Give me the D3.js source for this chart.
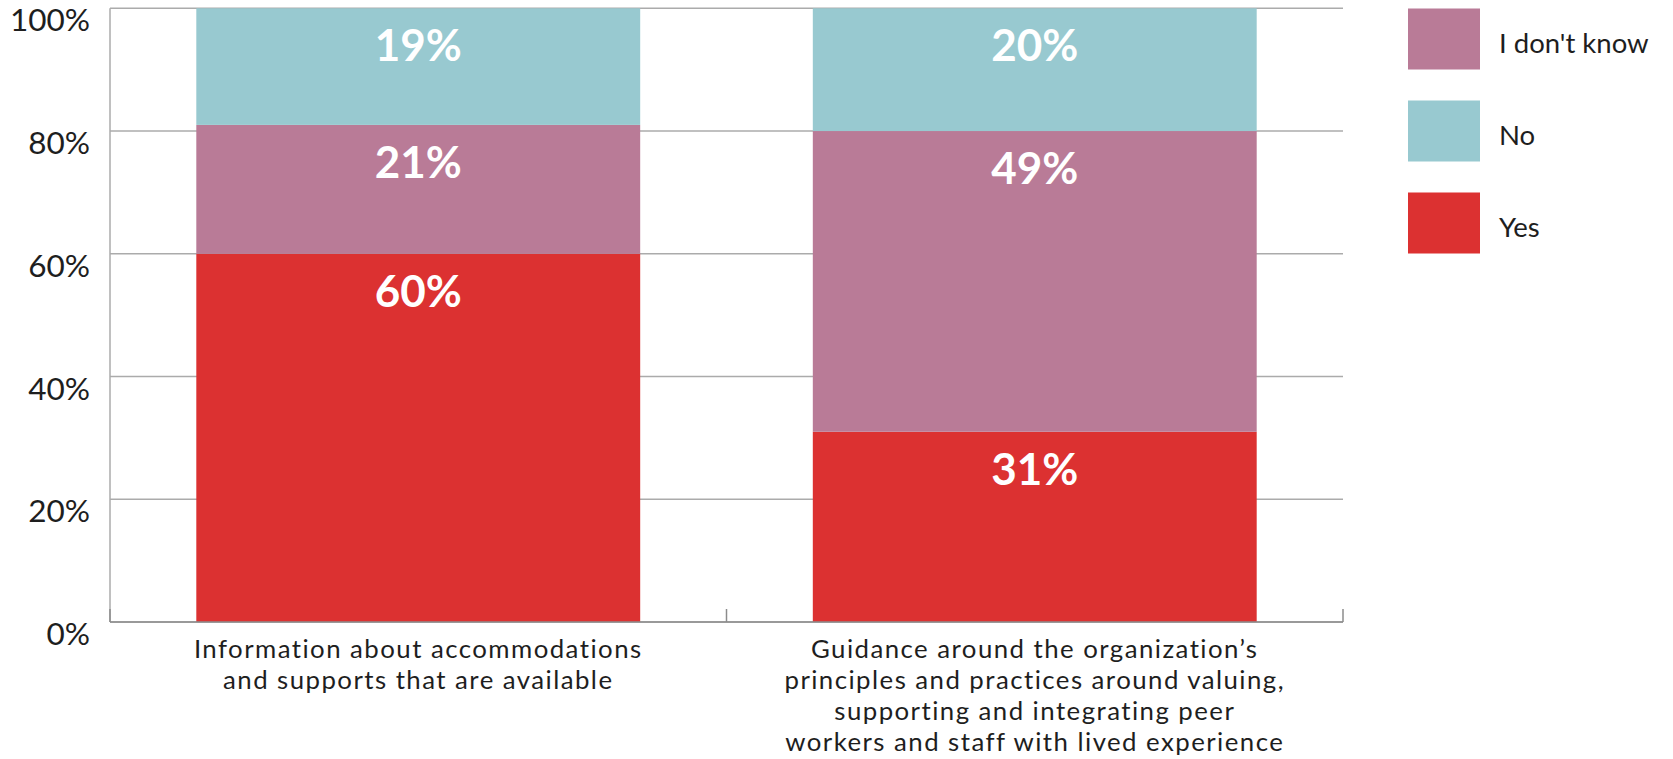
<!DOCTYPE html>
<html>
<head>
<meta charset="utf-8">
<script src="https://cdn.jsdelivr.net/npm/d3@7"></script>
<style>
  html, body { margin: 0; padding: 0; background: #ffffff; }
  svg { display: block; font-family: Lato, "Open Sans", sans-serif; }
</style>
</head>
<body>
<svg id="chart" width="1673" height="759"></svg>
<script>
// Survey answers per resource (percent of respondents)
const categories = [
  "Information about accommodations and supports that are available",
  "Guidance around the organization’s principles and practices around valuing, supporting and integrating peer workers and staff with lived experience"
];
const categoryLines = [
  ["Information about accommodations", "and supports that are available"],
  ["Guidance around the organization’s", "principles and practices around valuing,", "supporting and integrating peer", "workers and staff with lived experience"]
];
const seriesNames = ["Yes", "I don't know", "No"];   // stacked bottom → top
const yesValues = [60, 31];
const dontKnowValues = [21, 49];
const noValues = [19, 20];
const legendOrder = ["I don't know", "No", "Yes"];
const yTicks = [0, 20, 40, 60, 80, 100];

const colors = { "Yes": "#dc3131", "I don't know": "#b97b97", "No": "#98c9d0" };

const rows = categories.map((c, i) => ({
  category: c,
  "Yes": yesValues[i],
  "I don't know": dontKnowValues[i],
  "No": noValues[i]
}));

const margin = { left: 110, top: 8.3, right: 330, bottom: 137 };
const width = 1673, height = 759;
const svg = d3.select("#chart");

const x = d3.scaleBand()
  .domain(categories)
  .range([margin.left, width - margin.right])
  .paddingInner(0.28)
  .paddingOuter(0.14);

const y = d3.scaleLinear()
  .domain([0, 100])
  .range([height - margin.bottom, margin.top]);

const gridColor = "#ababab";

// horizontal gridlines
svg.append("g")
  .selectAll("line")
  .data(yTicks)
  .join("line")
  .attr("x1", margin.left)
  .attr("x2", width - margin.right)
  .attr("y1", d => y(d))
  .attr("y2", d => y(d))
  .attr("stroke", gridColor)
  .attr("stroke-width", 1.5);

// left axis line
svg.append("line")
  .attr("x1", margin.left).attr("x2", margin.left)
  .attr("y1", y(100)).attr("y2", y(0))
  .attr("stroke", gridColor).attr("stroke-width", 1.5);

// y tick labels
svg.append("g")
  .selectAll("text")
  .data(yTicks)
  .join("text")
  .attr("x", 90)
  .attr("y", d => y(d) + 23)
  .attr("text-anchor", "end")
  .attr("font-size", 31.5)
  .attr("fill", "#1e1e1e")
  .text(d => d + "%");

// stacked bars
const stack = d3.stack().keys(seriesNames);
const stacked = stack(rows);

const layers = svg.append("g")
  .selectAll("g")
  .data(stacked)
  .join("g")
  .attr("fill", d => colors[d.key]);

layers.selectAll("rect")
  .data(d => d.map(s => ({ key: d.key, s })))
  .join("rect")
  .attr("x", d => x(d.s.data.category))
  .attr("width", x.bandwidth())
  .attr("y", d => y(d.s[1]))
  .attr("height", d => y(d.s[0]) - y(d.s[1]));

// value labels, placed near the top of each segment
layers.selectAll("text")
  .data(d => d.map(s => ({ key: d.key, s })))
  .join("text")
  .attr("x", d => x(d.s.data.category) + x.bandwidth() / 2)
  .attr("y", d => y(d.s[1]) + 53)
  .attr("text-anchor", "middle")
  .attr("font-size", 44)
  .attr("font-weight", 700)
  .attr("fill", "#ffffff")
  .text(d => Math.round(d.s[1] - d.s[0]) + "%");

// bottom axis with upward ticks at band boundaries
const bottom = y(0);
svg.append("line")
  .attr("x1", margin.left).attr("x2", width - margin.right)
  .attr("y1", bottom).attr("y2", bottom)
  .attr("stroke", "#8c8c8c").attr("stroke-width", 1.5);

const boundaries = [margin.left, ...categories.map(c => x(c) + x.bandwidth() + x.step() * x.paddingInner() / 2)];
svg.append("g")
  .selectAll("line")
  .data(boundaries)
  .join("line")
  .attr("x1", d => d).attr("x2", d => d)
  .attr("y1", bottom - 13).attr("y2", bottom)
  .attr("stroke", "#8c8c8c").attr("stroke-width", 1.5);

// category labels, one text element per line
const catG = svg.append("g")
  .selectAll("g")
  .data(categories)
  .join("g");

catG.selectAll("text")
  .data((d, i) => categoryLines[i].map(line => ({ line, cx: x(d) + x.bandwidth() / 2 })))
  .join("text")
  .attr("x", d => d.cx)
  .attr("y", (d, j) => 658 + j * 31.1)
  .attr("text-anchor", "middle")
  .attr("font-size", 25.8)
  .attr("letter-spacing", 1.45)
  .attr("fill", "#1e1e1e")
  .text(d => d.line);

// legend
const legend = svg.append("g")
  .selectAll("g")
  .data(legendOrder)
  .join("g")
  .attr("transform", (d, i) => `translate(1408, ${8.5 + i * 92})`);

legend.append("rect")
  .attr("width", 72)
  .attr("height", 61)
  .attr("fill", d => colors[d]);

legend.append("text")
  .attr("x", 91)
  .attr("y", 44)
  .attr("font-size", 27.5)
  .attr("fill", "#1e1e1e")
  .text(d => d);
</script>
</body>
</html>
